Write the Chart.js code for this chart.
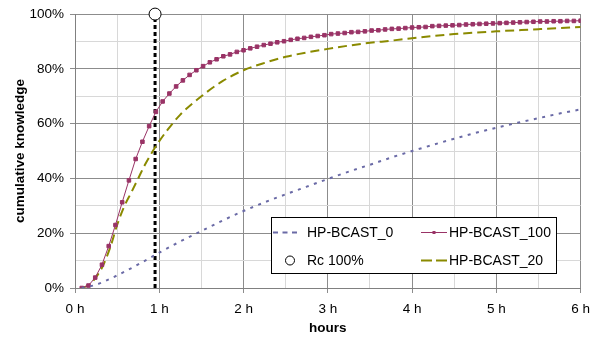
<!DOCTYPE html>
<html>
<head>
<meta charset="utf-8">
<script src="https://cdn.jsdelivr.net/npm/chart.js@4/dist/chart.umd.min.js"></script>
<style>
  html, body { margin: 0; padding: 0; background: #fff; }
  #wrap { width: 598px; height: 340px; position: relative; }
</style>
</head>
<body>
<div id="wrap"><canvas id="chart"></canvas></div>
<script>
// hours for the HP-BCAST_100 samples (one marker each)
const hours100 = [0.08, 0.16, 0.24, 0.32, 0.40, 0.48, 0.56, 0.64, 0.72, 0.80,
    0.88, 0.96, 1.04, 1.12, 1.20, 1.28, 1.36, 1.44, 1.52, 1.60,
    1.68, 1.76, 1.84, 1.92, 2.00, 2.08, 2.16, 2.24, 2.32, 2.40,
    2.48, 2.56, 2.64, 2.72, 2.80, 2.88, 2.96, 3.04, 3.12, 3.20,
    3.28, 3.36, 3.44, 3.52, 3.60, 3.68, 3.76, 3.84, 3.92, 4.00,
    4.08, 4.16, 4.24, 4.32, 4.40, 4.48, 4.56, 4.64, 4.72, 4.80,
    4.88, 4.96, 5.04, 5.12, 5.20, 5.28, 5.36, 5.44, 5.52, 5.60,
    5.68, 5.76, 5.84, 5.92, 6.00]
const bcast100 = [0, 0.9, 3.8, 8.5, 15.3, 23.0, 31.3, 39.3, 47.1, 53.4,
    59.1, 64.3, 68.1, 71.0, 73.6, 75.8, 77.8, 79.5, 81.0, 82.4,
    83.5, 84.6, 85.3, 86.2, 86.8, 87.5, 88.1, 88.7, 89.2, 89.7,
    90.1, 90.6, 91.0, 91.3, 91.7, 92.0, 92.3, 92.7, 92.9, 93.1,
    93.4, 93.5, 93.7, 94.0, 94.1, 94.4, 94.6, 94.7, 94.9, 95.1,
    95.2, 95.3, 95.6, 95.7, 95.8, 95.9, 96.0, 96.2, 96.3, 96.4,
    96.5, 96.6, 96.7, 96.8, 96.9, 97.0, 97.1, 97.2, 97.3, 97.3,
    97.4, 97.4, 97.5, 97.5, 97.6]

const hours20 = [0.08, 0.17, 0.25, 0.33, 0.42, 0.5, 0.58, 0.67, 0.75, 0.83,
    0.92, 1.0, 1.1, 1.25, 1.5, 1.75, 2.0, 2.25, 2.5, 2.75,
    3.0, 3.25, 3.5, 3.75, 4.0, 4.5, 5.0, 5.5, 6.0]
const bcast20 = [0, 1.2, 4.0, 8.0, 15.0, 23.0, 29.5, 35.0, 40.0, 45.0,
    49.8, 53.6, 57.8, 63.3, 70.0, 75.5, 79.5, 82.2, 84.4, 86.0,
    87.3, 88.5, 89.5, 90.3, 91.2, 92.7, 93.7, 94.5, 95.3]

const hours0 = [0.08, 0.25, 0.5, 0.75, 1.0, 1.25, 1.5, 1.75, 2.0, 2.25,
    2.5, 2.75, 3.0, 3.25, 3.5, 3.75, 4.0, 4.25, 4.5, 4.75,
    5.0, 5.25, 5.5, 5.75, 6.0]
const bcast0 = [0, 1.2, 4.6, 8.6, 12.9, 17.0, 20.8, 24.6, 28.1, 31.3,
    34.2, 37.0, 39.8, 42.5, 45.0, 47.6, 50.0, 52.3, 54.5, 56.6,
    58.5, 60.3, 62.0, 63.7, 65.2]

// Rc 100% point
const rcHour = 0.95
const rcValue = 100

const majorGrid = '#8c8c8c'
const minorGrid = '#d8d8d8'

function toPoints(xs, ys) {
    const pts = []
    for (let i = 0; i < xs.length; i++) {
        pts.push({ x: xs[i], y: ys[i] })
    }
    return pts
}

// legend drawn inside the plot, bottom right, 2 columns
const insideLegend = {
    id: 'insideLegend',
    afterDraw(chart) {
        const ctx = chart.ctx
        const area = chart.chartArea
        const w = 285, h = 56
        const left = Math.round(area.right - 25 - w)
        const top = Math.round(area.bottom - 15 - h)
        ctx.save()
        ctx.fillStyle = '#fff'
        ctx.fillRect(left, top, w, h)
        ctx.strokeStyle = '#000'
        ctx.lineWidth = 1
        ctx.strokeRect(left + 0.5, top + 0.5, w, h)

        const sampleX = [2, 150]
        const sampleW = [28, 26]
        const textX = [36, 178]
        const rowY = [15, 43]
        ctx.font = '14px "Liberation Sans", Arial, sans-serif'
        ctx.textBaseline = 'middle'
        ctx.textAlign = 'left'

        chart.data.datasets.forEach(function (ds, i) {
            if (!ds.label) return
            const col = i % 2
            const row = Math.floor(i / 2)
            const x0 = left + sampleX[col]
            const x1 = x0 + sampleW[col]
            const y = top + rowY[row]
            if (ds.showLine !== false) {
                ctx.beginPath()
                ctx.strokeStyle = ds.borderColor
                ctx.lineWidth = ds.borderWidth
                ctx.setLineDash(ds.legendDash || [])
                ctx.moveTo(x0, y + 0.5)
                ctx.lineTo(x1, y + 0.5)
                ctx.stroke()
                ctx.setLineDash([])
                if (ds.pointRadius > 0) {
                    ctx.fillStyle = ds.pointBackgroundColor
                    ctx.fillRect((x0 + x1) / 2 - 1.5, y - 1, 3, 3)
                }
            } else {
                ctx.beginPath()
                ctx.arc((x0 + x1) / 2 + 3, y + 0.5, 4.5, 0, Math.PI * 2)
                ctx.fillStyle = '#fff'
                ctx.fill()
                ctx.strokeStyle = '#000'
                ctx.lineWidth = 1
                ctx.stroke()
            }
            ctx.fillStyle = '#000'
            ctx.fillText(ds.label, left + textX[col], y + 1)
        })
        ctx.restore()
    }
}

const datasets = [
    {
        label: 'HP-BCAST_0',
        data: toPoints(hours0, bcast0),
        borderColor: '#6a6aa6',
        borderWidth: 2,
        borderDash: [3, 5.5],
        legendDash: [5, 4.5],
        pointRadius: 0,
        cubicInterpolationMode: 'monotone',
        fill: false
    },
    {
        label: 'HP-BCAST_100',
        data: toPoints(hours100, bcast100),
        borderColor: '#993366',
        borderWidth: 1,
        pointStyle: 'rect',
        pointRadius: 2.5,
        pointBorderWidth: 1,
        pointBackgroundColor: '#993366',
        pointBorderColor: '#993366',
        tension: 0,
        fill: false
    },
    {
        label: 'Rc 100%',
        data: [{ x: rcHour, y: rcValue }],
        showLine: false,
        pointStyle: 'circle',
        pointRadius: 6,
        pointBorderWidth: 1,
        pointBackgroundColor: '#fff',
        pointBorderColor: '#000',
        clip: false
    },
    {
        label: 'HP-BCAST_20',
        data: toPoints(hours20, bcast20),
        borderColor: '#8a8a00',
        borderWidth: 2,
        borderDash: [9, 5],
        legendDash: [11, 4],
        pointRadius: 0,
        cubicInterpolationMode: 'monotone',
        fill: false
    },
    {
        // dotted drop line under Rc 100%
        label: '',
        data: [{ x: rcHour, y: 0 }, { x: rcHour, y: rcValue }],
        borderColor: '#000',
        borderWidth: 3,
        borderDash: [4, 3],
        pointRadius: 0,
        fill: false
    }
]

const tickFont = { family: '"Liberation Sans", Arial, sans-serif', size: 13.5 }
const titleFont = { family: '"Liberation Sans", Arial, sans-serif', size: 13.5, weight: 'bold', lineHeight: 1.2 }

new Chart(document.getElementById('chart'), {
    type: 'line',
    data: { datasets: datasets },
    plugins: [insideLegend],
    options: {
        responsive: true,
        maintainAspectRatio: false,
        animation: false,
        layout: { padding: { top: 11, right: 17, left: 0, bottom: 0 } },
        plugins: {
            legend: { display: false },
            tooltip: { enabled: false }
        },
        scales: {
            x: {
                type: 'linear',
                min: 0,
                max: 6,
                afterFit: function (scale) { scale.height = 52 },
                ticks: {
                    stepSize: 0.5,
                    autoSkip: false,
                    maxRotation: 0,
                    padding: 8,
                    color: '#000',
                    font: tickFont,
                    callback: function (v) { return v % 1 === 0 ? v + ' h' : '' }
                },
                grid: {
                    tickLength: 5,
                    color: function (c) { return c.tick && c.tick.value % 1 === 0 ? majorGrid : minorGrid },
                    tickColor: function (c) { return c.tick && c.tick.value % 1 === 0 ? majorGrid : 'rgba(0,0,0,0)' }
                },
                border: { color: '#808080' },
                title: {
                    display: true,
                    text: 'hours',
                    color: '#000',
                    font: titleFont,
                    padding: { top: 0, bottom: 4 }
                }
            },
            y: {
                min: 0,
                max: 100,
                afterFit: function (scale) { scale.width = 75 },
                ticks: {
                    stepSize: 10,
                    padding: 6,
                    color: '#000',
                    font: tickFont,
                    callback: function (v) { return v % 20 === 0 ? v + '%' : '' }
                },
                grid: {
                    tickLength: 5,
                    color: function (c) { return c.tick && c.tick.value % 20 === 0 ? majorGrid : minorGrid },
                    tickColor: function (c) { return c.tick && c.tick.value % 20 === 0 ? majorGrid : 'rgba(0,0,0,0)' }
                },
                border: { color: '#808080' },
                title: {
                    display: true,
                    text: 'cumulative knowledge',
                    color: '#000',
                    font: titleFont,
                    padding: { top: 12, bottom: 0 }
                }
            }
        }
    }
})
</script>
</body>
</html>
